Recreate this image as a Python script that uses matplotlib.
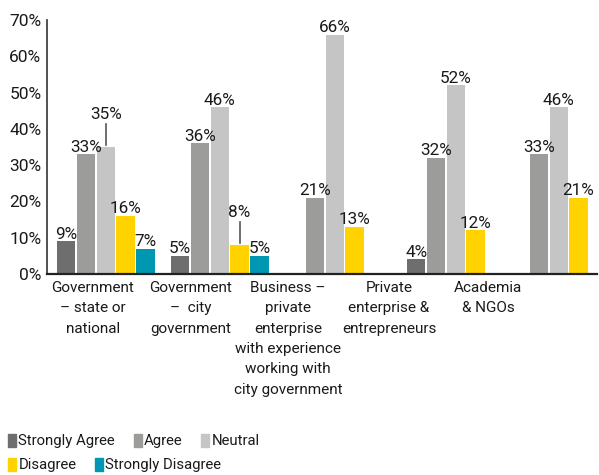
import matplotlib
matplotlib.use("Agg")
import matplotlib.pyplot as plt
from matplotlib.patches import Patch
import numpy as np

plt.rcParams['font.family'] = ['Roboto', 'DejaVu Sans']

# data (nan = no bar)
groups = ['Government\n\u2013 state or\nnational',
          'Government\n\u2013  city\ngovernment',
          'Business \u2013\nprivate\nenterprise\nwith experience\nworking with\ncity government',
          'Private\nenterprise &\nentrepreneurs',
          'Academia\n& NGOs']
series = ['Strongly Agree', 'Agree', 'Neutral', 'Disagree', 'Strongly Disagree']
strongly_agree = [9, 5, np.nan, 4, np.nan]
agree = [33, 36, 21, 32, 33]
neutral = [35, 46, 66, 52, 46]
disagree = [16, 8, 13, 12, 21]
strongly_disagree = [7, 5, np.nan, np.nan, np.nan]
yticks = [0, 10, 20, 30, 40, 50, 60, 70]

colors = ['#6e6e6e', '#9c9c9b', '#c5c5c5', '#ffd200', '#0097b2']

# layout (x in pixel-like units of the original)
group_start = [57, 171, 286, 407, 510]
label_x = [93, 191, 288, 389, 488]
slot = 19.8
bar_w = 18.3
lifted = {(0, 2): 7.7, (1, 3): 7.7}  # labels raised with a leader line

fig = plt.figure(figsize=(5.99, 4.75), dpi=100)
ax = fig.add_axes([47 / 599, 1 - 274 / 475, 550 / 599, 254 / 475])

values = [strongly_agree, agree, neutral, disagree, strongly_disagree]
for s, (vals, col) in enumerate(zip(values, colors)):
    for g, v in enumerate(vals):
        if np.isnan(v):
            continue
        x = group_start[g] + s * slot
        ax.bar(x, v, width=bar_w, align='edge', color=col, zorder=2)
        cx = x + bar_w / 2
        if (g, s) in lifted:
            up = lifted[(g, s)]
            ax.text(cx, v + up, f'{v:.0f}%', ha='center', va='baseline',
                    fontsize=12.3, color='#1a1a1a')
            ax.plot([cx, cx], [v + up - 1.4, v + 0.5], color='#555555', lw=1.2)
        else:
            ax.text(cx, v + 0.7, f'{v:.0f}%', ha='center', va='baseline',
                    fontsize=12.3, color='#1a1a1a')

ax.set_xlim(47, 597)
ax.set_ylim(0, 70)
ax.set_yticks(yticks)
ax.set_yticklabels([f'{t}%' for t in yticks], fontsize=12.5, color='#1a1a1a')
ax.tick_params(axis='y', length=0, pad=4)
ax.set_xticks(label_x)
ax.set_xticklabels(groups, fontsize=11, color='#1a1a1a', linespacing=1.58, va='top')
ax.tick_params(axis='x', length=0, pad=5)
for sp in ['top', 'right']:
    ax.spines[sp].set_visible(False)
ax.spines['left'].set_color('#333333')
ax.spines['bottom'].set_color('#222222')
ax.spines['left'].set_linewidth(1.2)
ax.spines['bottom'].set_linewidth(1.6)

handles = [Patch(color=c, label=l) for c, l in zip(colors, series)]
leg_kw = dict(frameon=False, fontsize=10.7, handlelength=0.55, handleheight=0.95,
              handletextpad=0.15, columnspacing=1.25, borderpad=0,
              borderaxespad=0, loc='center left', labelcolor='#1a1a1a')
fig.legend(handles=handles[:3], ncol=3, bbox_to_anchor=(8 / 599, 1 - 441 / 475), **leg_kw)
fig.legend(handles=handles[3:], ncol=2, bbox_to_anchor=(8 / 599, 1 - 465 / 475), **leg_kw)

fig.savefig('out.png', dpi=100)
